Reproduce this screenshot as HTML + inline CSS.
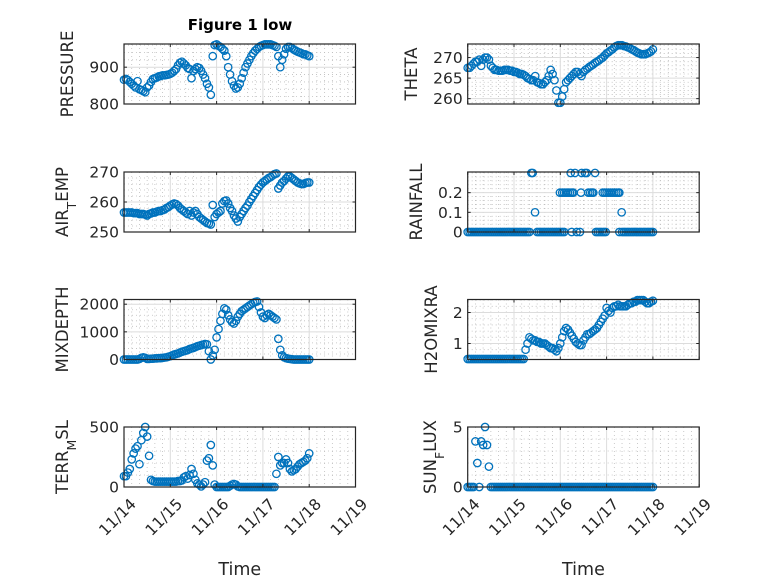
<!DOCTYPE html>
<html><head><meta charset="utf-8"><style>
html,body{margin:0;padding:0;background:#fff;}
svg{display:block;font-family:"DejaVu Sans","Liberation Sans",sans-serif;}
</style></head><body>
<svg id="fig" width="778" height="583" viewBox="0 0 778 583" xmlns="http://www.w3.org/2000/svg">
<rect width="778" height="583" fill="#fff"/>
<text x="240" y="30" text-anchor="middle" font-weight="bold" font-size="15" fill="#000">Figure 1 low</text>
</svg>
<script>
const hours = [0,1,2,3,4,5,6,7,8,9,10,11,12,13,14,15,16,17,18,19,20,21,22,23,24,25,26,27,28,29,30,31,32,33,34,35,36,37,38,39,40,41,42,43,44,45,46,47,48,49,50,51,52,53,54,55,56,57,58,59,60,61,62,63,64,65,66,67,68,69,70,71,72,73,74,75,76,77,78,79,80,81,82,83,84,85,86,87,88,89,90,91,92,93,94,95,96];
const xTickLabels = ["11/14","11/15","11/16","11/17","11/18","11/19"];
const pressure = [866,868,865,860,855,850,845,862,840,838,835,832,845,850,860,868,870,872,875,876,878,878,879,880,882,885,890,895,905,912,915,910,905,898,895,870,890,895,900,898,890,880,870,855,845,825,930,960,962,958,955,950,945,930,900,880,862,850,842,845,855,870,885,900,910,920,930,938,945,950,955,958,960,962,962,962,962,960,958,955,930,900,920,935,950,955,955,952,948,945,942,940,938,935,935,932,930];
const theta = [267.5,267.5,268,268.5,269,269,269.5,268,269.5,270,270,269.5,268,267.5,267,267,266.8,266.8,266.8,267,267,267,266.8,266.8,266.5,266.5,266.3,266,266,265.8,265.5,265,264.8,264.5,264.5,265.5,264,263.8,263.5,263.5,264,264.5,265.5,267,266,264.5,262,259,259,260.5,262.3,264,264.5,265,265.5,266,266.5,266.5,266,265.5,266.5,267,267.3,267.7,268,268.3,268.7,269,269.3,269.7,270,270.5,271,271.3,271.7,272,272.5,272.8,273,273,273,272.8,272.7,272.5,272.3,272,271.8,271.5,271.2,271,270.8,270.8,270.8,271,271.2,271.5,272];
const airTemp = [256.5,256.5,256.5,256.5,256.5,256.3,256.3,256.3,256,256,256,255.8,255.5,256,256.2,256.5,256.5,256.8,257,257,257.3,257.5,258,258.3,258.8,259.2,259.5,259.3,258.8,258,257.5,257,256.5,256,257,255.5,256.5,257,256,255,254.5,254,253.5,253,252.8,252.5,259,255,256,256.5,257,259.5,260.3,260.5,259.5,258,257,255.5,254.5,253.5,255,256,257,258,258.8,260,261,262,263,264,265,265.8,266.5,267,267.5,268,268.3,268.8,269.3,269.5,264.5,265.5,266.5,267,267.8,268.5,268.5,268,267.5,267,266.5,266.2,266,266,266.3,266.5,266.5];
const rainHours = [0,1,2,3,4,5,6,7,8,9,10,11,12,13,14,15,16,17,18,19,20,21,22,23,24,25,26,27,28,29,30,31,32,33,33.7,34.9,36,37,38,39,40,41,42,43,44,45,46,47,48,49,50,47.8,49,50,51,52,53,54,54.7,53.4,55.6,59.1,60.8,61.7,66,53.9,56.5,58.2,58.7,62.5,63.5,64.5,65.1,66.5,67.5,68.5,69.5,70.5,71.5,70,71,72,73,74,75,76,77,78,78.6,79.8,78.6,80,81,82,83,84,85,86,87,88,89,90,91,92,93,94,95,96];
const rainValues = [0,0,0,0,0,0,0,0,0,0,0,0,0,0,0,0,0,0,0,0,0,0,0,0,0,0,0,0,0,0,0,0,0,0.3,0.3,0.1,0,0,0,0,0,0,0,0,0,0,0,0,0,0,0,0.2,0.2,0.2,0.2,0.2,0.2,0.2,0.2,0.3,0.3,0.3,0.3,0.3,0.3,0,0,0,0.2,0.2,0.2,0.2,0.2,0,0,0,0,0,0,0.2,0.2,0.2,0.2,0.2,0.2,0.2,0.2,0.2,0.2,0.1,0,0,0,0,0,0,0,0,0,0,0,0,0,0,0,0,0,0];
const mixDepth = [0,0,0,0,0,0,0,0,20,60,80,60,20,20,30,30,40,40,50,50,60,70,80,100,120,150,180,200,220,250,280,300,320,340,380,400,420,450,480,500,520,540,560,550,300,0,150,350,800,1100,1400,1650,1850,1800,1600,1450,1350,1300,1400,1550,1650,1750,1800,1850,1900,1950,2000,2050,2080,2100,1900,1700,1550,1500,1600,1650,1600,1550,1500,1450,750,350,150,80,50,30,20,10,0,0,0,0,0,0,0,0,0];
const h2oMix = [0.5,0.5,0.5,0.5,0.5,0.5,0.5,0.5,0.5,0.5,0.5,0.5,0.5,0.5,0.5,0.5,0.5,0.5,0.5,0.5,0.5,0.5,0.5,0.5,0.5,0.5,0.5,0.5,0.5,0.5,0.8,1.0,1.2,1.15,1.1,1.1,1.05,1.05,1.0,1.0,1.0,0.95,0.9,0.85,0.85,0.8,0.75,0.85,1.0,1.2,1.4,1.5,1.45,1.35,1.25,1.15,1.05,1.0,0.95,0.95,1.1,1.2,1.3,1.3,1.35,1.4,1.45,1.5,1.6,1.7,1.8,1.9,2.15,2.05,2.0,2.15,2.2,2.2,2.25,2.2,2.2,2.2,2.2,2.25,2.3,2.3,2.35,2.35,2.4,2.4,2.4,2.4,2.35,2.3,2.3,2.35,2.38];
const terrMsl = [90,90,120,150,230,280,320,340,190,390,450,500,420,260,60,50,45,45,45,45,45,45,45,45,45,45,45,45,50,50,55,80,90,70,100,150,110,60,30,20,5,20,40,220,240,350,180,20,0,0,0,0,0,0,0,10,20,25,20,5,0,0,0,0,0,0,0,0,0,0,0,0,0,0,0,0,0,0,0,110,250,180,200,200,230,200,150,130,140,150,170,190,200,210,220,240,280];
const sunFlux = [0,0,0,0,3.8,2,0,3.8,3.5,5,3.5,1.7,0,0,0,0,0,0,0,0,0,0,0,0,0,0,0,0,0,0,0,0,0,0,0,0,0,0,0,0,0,0,0,0,0,0,0,0,0,0,0,0,0,0,0,0,0,0,0,0,0,0,0,0,0,0,0,0,0,0,0,0,0,0,0,0,0,0,0,0,0,0,0,0,0,0,0,0,0,0,0,0,0,0,0,0,0];
const pressureTicks = [800,900];
const thetaTicks = [260,265,270];
const airTicks = [250,260,270];
const rainTicks = [0,0.1,0.2];
const mixTicks = [0,1000,2000];
const h2oTicks = [1,2];
const terrTicks = [0,500];
const sunTicks = [0,5];

const NS="http://www.w3.org/2000/svg";
const svg=document.getElementById('fig');
function mk(tag,at,parent){const e=document.createElementNS(NS,tag);for(const k in at)e.setAttribute(k,at[k]);(parent||svg).appendChild(e);return e;}
const COLS=[124,467.7], W=231.5, ROWS=[44,172,299.5,427], H=60;
const panels=[
 {name:'pressure',lab:['PRESSURE'],c:0,r:0,t:hours,v:pressure,ylim:[800,963],ticks:pressureTicks,minor:20,lx:73},
 {name:'theta',lab:['THETA'],c:1,r:0,t:hours,v:theta,ylim:[258.7,273.3],ticks:thetaTicks,minor:1,lx:417},
 {name:'air-temp',lab:['AIR','T','EMP'],c:0,r:1,t:hours,v:airTemp,ylim:[250,270],ticks:airTicks,minor:2,lx:68},
 {name:'rainfall',lab:['RAINFALL'],c:1,r:1,t:rainHours,v:rainValues,ylim:[0,0.305],ticks:rainTicks,minor:0.02,lx:422},
 {name:'mixdepth',lab:['MIXDEPTH'],c:0,r:2,t:hours,v:mixDepth,ylim:[0,2170],ticks:mixTicks,minor:200,lx:68},
 {name:'h2omixra',lab:['H2OMIXRA'],c:1,r:2,t:hours,v:h2oMix,ylim:[0.484,2.42],ticks:h2oTicks,minor:0.2,lx:437},
 {name:'terr-msl',lab:['TERR','M','SL'],c:0,r:3,t:hours,v:terrMsl,ylim:[0,500],ticks:terrTicks,minor:100,lx:68},
 {name:'sun-flux',lab:['SUN','F','LUX'],c:1,r:3,t:hours,v:sunFlux,ylim:[0,5],ticks:sunTicks,minor:1,lx:436}
];
panels.forEach(p=>{
 const L=COLS[p.c], T=ROWS[p.r], B=T+H, R=L+W;
 const xs=h=>L+h/120*W;
 const ys=v=>B-(v-p.ylim[0])/(p.ylim[1]-p.ylim[0])*H;
 const g=mk('g',{});
 
 
 for(let h=4;h<120;h+=4){ if(h%24===0) continue;
  mk('line',{x1:xs(h),x2:xs(h),y1:T,y2:B,stroke:'#bdbdbd','stroke-width':0.8,'stroke-dasharray':'1 3'},g);}
 const start=Math.ceil(p.ylim[0]/p.minor-1e-6);
 for(let k=start;k*p.minor<=p.ylim[1]+1e-9;k++){const v=k*p.minor;
  if(p.ticks.some(t=>Math.abs(t-v)<1e-6))continue;
  mk('line',{x1:L,x2:R,y1:ys(v),y2:ys(v),stroke:'#bdbdbd','stroke-width':0.8,'stroke-dasharray':'1 3'},g);}
 for(let d=1;d<5;d++) mk('line',{x1:xs(d*24),x2:xs(d*24),y1:T,y2:B,stroke:'#dcdcdc','stroke-width':1},g);
 p.ticks.forEach(v=>mk('line',{x1:L,x2:R,y1:ys(v),y2:ys(v),stroke:'#dcdcdc','stroke-width':1},g));
 const dg=mk('g',{fill:'none',stroke:'#0072BD','stroke-width':1.3},g);
 
 
 p.t.forEach((h,i)=>{const c=mk('circle',{cx:xs(h),cy:ys(p.v[i]),r:3.7},dg);
  
  });
 mk('rect',{x:L,y:T,width:W,height:H,fill:'none',stroke:'#262626','stroke-width':1.2},g);
 for(let d=0;d<=5;d++){const x=xs(d*24);
  mk('line',{x1:x,x2:x,y1:B,y2:B-3,stroke:'#262626','stroke-width':1},g);
  mk('line',{x1:x,x2:x,y1:T,y2:T+3,stroke:'#262626','stroke-width':1},g);}
 p.ticks.forEach(v=>{const y=ys(v);
  mk('line',{x1:L,x2:L+3,y1:y,y2:y,stroke:'#262626','stroke-width':1},g);
  mk('line',{x1:R,x2:R-3,y1:y,y2:y,stroke:'#262626','stroke-width':1},g);
  const tl=mk('text',{x:L-5,y:y+5.5,'text-anchor':'end','font-size':15.5,fill:'#262626'},g);
  tl.textContent=String(v);
  
  });
 const cy=T+H/2;
 const yl=mk('text',{x:0,y:0,'text-anchor':'middle','font-size':16.5,fill:'#262626',transform:`translate(${p.lx},${cy}) rotate(-90)`},g);
 
 
 if(p.lab.length===1) yl.textContent=p.lab[0];
 else{const a=mk('tspan',{},yl);a.textContent=p.lab[0];
  const b=mk('tspan',{'baseline-shift':'sub','font-size':12.5},yl);b.textContent=p.lab[1];
  const c=mk('tspan',{'baseline-shift':'baseline'},yl);c.textContent=p.lab[2];}
 if(p.r===3){
  xTickLabels.forEach((s,d)=>{const x=xs(d*24);
   const t=mk('text',{x:0,y:0,'text-anchor':'end','font-size':15.5,fill:'#262626',transform:`translate(${x+13},${B+18}) rotate(-45)`},g);
   t.textContent=s;
   
   });
  const xt=mk('text',{x:L+W/2,y:575,'text-anchor':'middle','font-size':17.5,fill:'#262626'},g);
  xt.textContent='Time';
  
  
 }
});
</script>
</body></html>
